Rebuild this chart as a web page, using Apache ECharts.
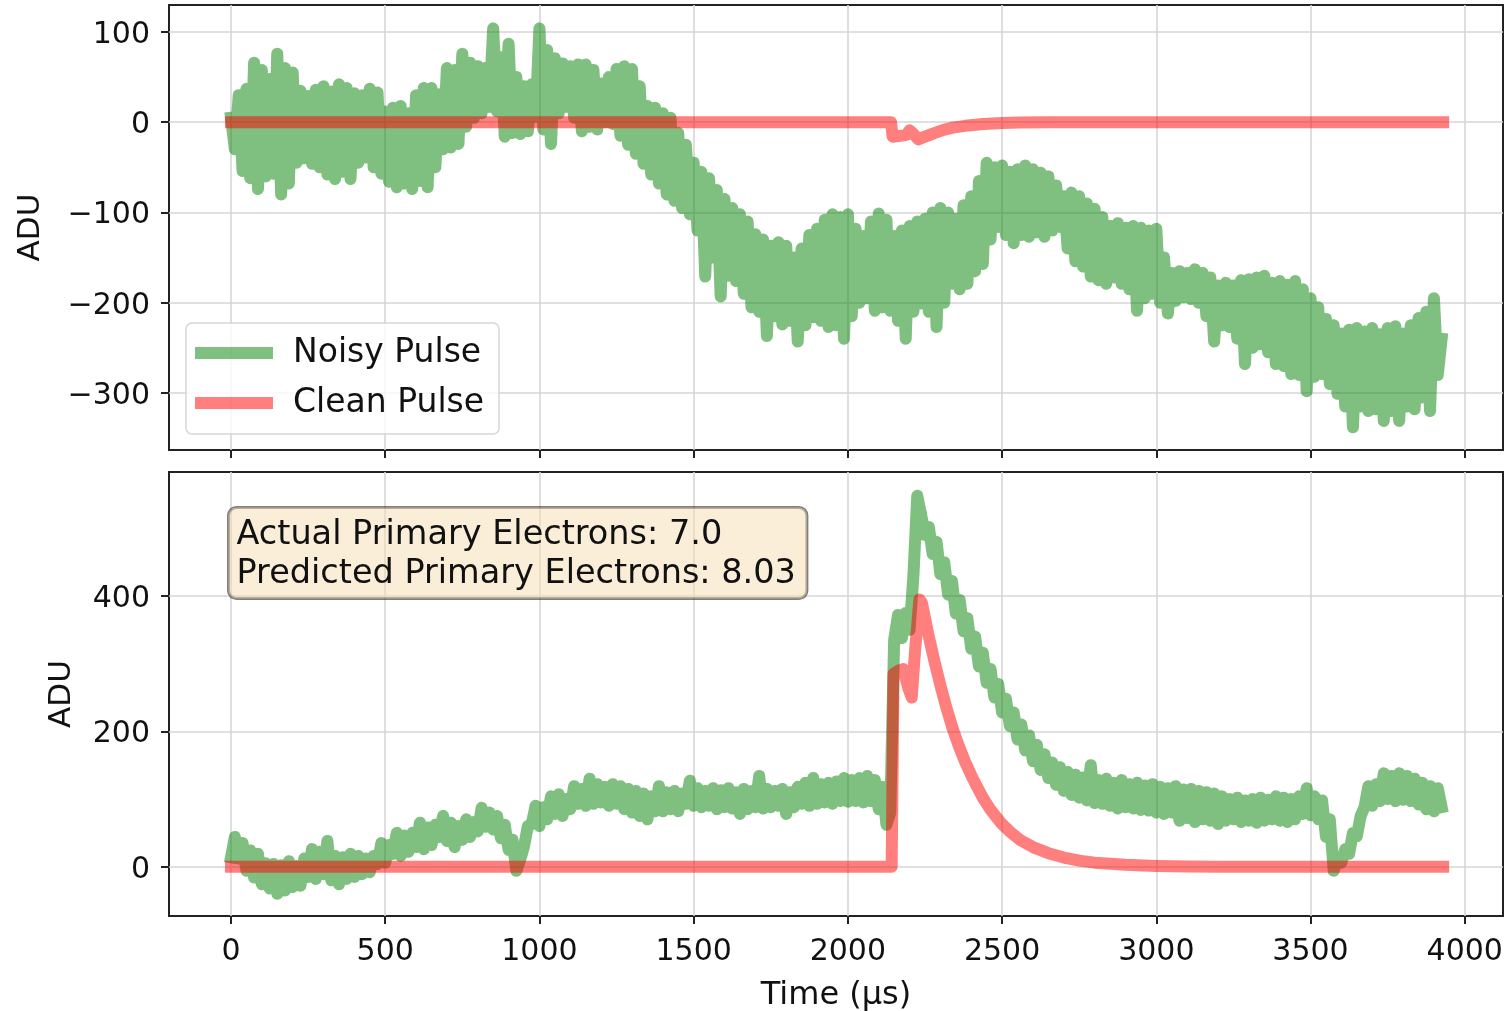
<!DOCTYPE html>
<html>
<head>
<meta charset="utf-8">
<title>Noisy vs clean pulse</title>
<script src="https://cdn.jsdelivr.net/npm/echarts@6/dist/echarts.min.js"></script>
<style>
  html, body { margin: 0; padding: 0; background: #ffffff; }
  #chart { width: 1509px; height: 1011px; }
</style>
</head>
<body>
<div id="chart"></div>
<script>
// Noisy waveforms are sampled every 12.5 µs; each list holds one value per sample.
const SAMPLE_STEP_US = 12.5;

// Upper panel: raw noisy waveform (ADU)
const topNoisy = [
  5, -30, 30, -54, 37, -62, 66, -74, 58, -60,
  48, -57, 76, -80, 60, -68, 55, -45, 35, -40,
  29, -46, 36, -50, 40, -58, 34, -63, 42, -55,
  38, -63, 32, -45, 30, -39, 37, -50, 33, -57,
  12, -66, 16, -72, 18, -68, 10, -74, 30, -65,
  38, -72, 38, -50, 31, -30, 60, -28, 58, -24,
  76, -5, 66, 5, 62, 10, 60, 17, 104, 12,
  72, -16, 87, -12, 50, -13, 40, -10, 42, 6,
  104, -8, 80, -24, 71, 10, 65, 17, 62, 5,
  64, -10, 64, -5, 58, -8, 43, 0, 50, -2,
  59, -15, 62, -25, 59, -35, 40, -46, 18, -58,
  16, -68, 10, -80, 5, -87, -12, -95, -25, -102,
  -45, -120, -55, -171, -62, -150, -75, -193, -85, -170,
  -95, -176, -102, -190, -110, -205, -124, -210, -130, -237,
  -137, -215, -133, -224, -137, -220, -150, -243, -140, -225,
  -125, -216, -118, -220, -108, -227, -102, -225, -105, -240,
  -102, -215, -118, -200, -126, -195, -110, -209, -101, -205,
  -108, -209, -126, -220, -120, -240, -115, -210, -110, -201,
  -107, -210, -100, -227, -95, -200, -100, -179, -107, -185,
  -92, -179, -82, -165, -65, -157, -45, -130, -50, -116,
  -48, -125, -55, -134, -52, -125, -48, -127, -52, -122,
  -56, -127, -60, -120, -70, -116, -82, -140, -78, -154,
  -82, -160, -90, -171, -96, -175, -105, -179, -115, -172,
  -112, -179, -117, -185, -115, -209, -117, -195, -120, -190,
  -118, -200, -150, -212, -167, -198, -165, -194, -167, -196,
  -163, -200, -167, -215, -172, -243, -181, -225, -178, -227,
  -181, -240, -175, -268, -174, -250, -172, -246, -170, -255,
  -178, -268, -176, -270, -180, -279, -176, -280, -185, -298,
  -195, -282, -205, -279, -218, -290, -225, -301, -234, -315,
  -230, -338, -228, -315, -232, -320, -228, -318, -235, -331,
  -228, -320, -226, -331, -234, -315, -225, -318, -217, -305,
  -210, -320, -195, -280, -240
];

// Upper panel: clean pulse as [time µs, ADU]
const topClean = [
  [0, 0], [2140, 0], [2145, -16], [2170, -15], [2190, -14], [2200, -9],
  [2210, -12], [2228, -19], [2250, -16], [2280, -12], [2310, -8.5],
  [2340, -6], [2380, -4], [2440, -2], [2500, -0.8], [2560, -0.3],
  [2650, 0], [3930, 0]
];

// Lower panel: noisy waveform (ADU)
const bottomNoisy = [
  14, 44, 12, 35, -6, 24, -16, 19, -26, 5,
  -32, 4, -40, 2, -35, 8, -30, 1, -28, 12,
  -15, 26, -18, 22, -11, 38, -20, 16, -26, 14,
  -18, 19, -15, 16, -11, 12, -8, 16, 4, 35,
  6, 32, 19, 50, 16, 46, 22, 50, 29, 65,
  26, 58, 32, 62, 44, 75, 38, 65, 29, 60,
  40, 70, 44, 66, 52, 87, 59, 80, 55, 75,
  42, 62, 25, 40, -6, 10, 30, 60, 63, 90,
  60, 88, 70, 104, 78, 107, 75, 100, 85, 119,
  93, 115, 90, 130, 93, 122, 95, 118, 90, 122,
  93, 119, 85, 115, 80, 112, 75, 108, 70, 104,
  82, 119, 82, 110, 85, 112, 82, 108, 93, 127,
  90, 116, 88, 112, 90, 116, 85, 113, 88, 116,
  86, 110, 78, 115, 85, 112, 88, 134, 86, 115,
  88, 112, 90, 115, 78, 110, 88, 118, 93, 124,
  90, 131, 93, 122, 95, 124, 93, 126, 97, 131,
  96, 128, 97, 131, 95, 134, 97, 128, 85, 118,
  62, 80, 335, 372, 338, 375, 350, 430, 548, 520,
  490, 502, 462, 480, 432, 450, 402, 422, 374, 394,
  348, 367, 322, 340, 296, 316, 272, 292, 250, 270,
  228, 248, 208, 228, 188, 210, 172, 194, 156, 180,
  143, 166, 131, 154, 121, 147, 112, 140, 106, 136,
  102, 132, 98, 150, 94, 128, 93, 130, 90, 124,
  86, 128, 88, 122, 86, 124, 84, 120, 83, 122,
  80, 118, 78, 116, 80, 119, 68, 114, 72, 115,
  66, 112, 70, 110, 68, 108, 63, 104, 68, 100,
  70, 102, 66, 98, 68, 100, 65, 102, 68, 99,
  70, 104, 68, 102, 66, 100, 70, 104, 78, 116,
  76, 104, 70, 98, 44, 70, -6, 12, 6, 26,
  19, 50, 45, 75, 88, 119, 90, 122, 97, 138,
  100, 134, 97, 138, 99, 134, 97, 130, 92, 124,
  85, 119, 82, 116, 88
];

// Lower panel: clean pulse as [time µs, ADU]
const bottomClean = [
  [0, 0], [2142, 0], [2148, 285], [2165, 290], [2180, 292], [2195, 265],
  [2207, 250], [2218, 320], [2232, 395], [2240, 390], [2260, 345],
  [2280, 305], [2300, 268], [2320, 234], [2340, 204], [2360, 178],
  [2380, 155], [2400, 135], [2420, 117], [2440, 100], [2460, 86],
  [2480, 74], [2500, 63], [2530, 50], [2560, 39], [2600, 29],
  [2650, 20], [2700, 13.5], [2750, 9], [2800, 6], [2900, 3],
  [3000, 1.2], [3100, 0.4], [3200, 0], [3930, 0]
];

// Tick positions
const timeTicks = [0, 500, 1000, 1500, 2000, 2500, 3000, 3500, 4000];
const topAduTicks = [-300, -200, -100, 0, 100];
const bottomAduTicks = [0, 200, 400];

// Electron counts shown in the lower panel
const actualElectrons = 7.0;
const predictedElectrons = 8.03;

const NOISY_COLOR = 'rgba(0, 128, 0, 0.5)';
const CLEAN_COLOR = 'rgba(255, 0, 0, 0.5)';
const FONT = 'DejaVu Sans';
const TEXT_COLOR = '#111111';
const FRAME_COLOR = '#222222';
const GRID_COLOR = '#d6d6d6';

const withTimes = values => values.map((v, i) => [i * SAMPLE_STEP_US, v]);
const minusFmt = v => (v < 0 ? '\u2212' + Math.abs(v) : String(v));

function timeAxis(gridIndex, showLabels) {
  return {
    type: 'value',
    gridIndex: gridIndex,
    min: -201,
    max: 4124,
    axisLine: { show: false, onZero: false },
    axisTick: {
      show: true, customValues: timeTicks, length: 8, inside: false,
      lineStyle: { color: FRAME_COLOR, width: 2 }
    },
    axisLabel: {
      show: showLabels, customValues: timeTicks, formatter: minusFmt,
      fontSize: 30, fontFamily: FONT, color: TEXT_COLOR, margin: 21
    },
    splitLine: { show: true, lineStyle: { color: GRID_COLOR, width: 1.6 } },
    name: showLabels ? 'Time (µs)' : '',
    nameLocation: 'middle',
    nameGap: 64,
    nameTextStyle: { fontSize: 32, fontFamily: FONT, color: TEXT_COLOR }
  };
}

function aduAxis(gridIndex, min, max, ticks, nameGap) {
  return {
    type: 'value',
    gridIndex: gridIndex,
    min: min,
    max: max,
    axisLine: { show: false, onZero: false },
    axisTick: {
      show: true, customValues: ticks, length: 8, inside: false,
      lineStyle: { color: FRAME_COLOR, width: 2 }
    },
    axisLabel: {
      show: true, customValues: ticks,
      formatter: v => '{v|' + minusFmt(v) + '}',
      rich: {
        v: { fontSize: 30, fontFamily: FONT, color: TEXT_COLOR, padding: [6, 0, 0, 0] }
      },
      fontSize: 30, fontFamily: FONT, color: TEXT_COLOR, margin: 19
    },
    splitLine: { show: true, lineStyle: { color: GRID_COLOR, width: 1.6 } },
    name: 'ADU',
    nameLocation: 'middle',
    nameRotate: 90,
    nameGap: nameGap,
    nameTextStyle: { fontSize: 31, fontFamily: FONT, color: TEXT_COLOR }
  };
}

function lineSeries(name, data, color, xi, yi, z) {
  return {
    name: name,
    type: 'line',
    xAxisIndex: xi,
    yAxisIndex: yi,
    data: data,
    showSymbol: false,
    symbol: 'none',
    z: z,
    itemStyle: { color: color },
    lineStyle: { color: color, width: 12, cap: 'square', join: 'round' },
    emphasis: { disabled: true },
    animation: false
  };
}

const chart = echarts.init(document.getElementById('chart'), null, { renderer: 'canvas' });

chart.setOption({
  animation: false,
  backgroundColor: '#ffffff',
  textStyle: { fontFamily: FONT },
  grid: [
    { left: 169, top: 5, width: 1334, height: 445, show: true,
      borderColor: FRAME_COLOR, borderWidth: 2, containLabel: false, outerBoundsMode: 'none' },
    { left: 169, top: 472, width: 1334, height: 444, show: true,
      borderColor: FRAME_COLOR, borderWidth: 2, containLabel: false, outerBoundsMode: 'none' }
  ],
  xAxis: [timeAxis(0, false), timeAxis(1, true)],
  yAxis: [
    aduAxis(0, -363.2, 129.9, topAduTicks, 123),
    aduAxis(1, -72.8, 583.2, bottomAduTicks, 92)
  ],
  legend: {
    show: true,
    orient: 'vertical',
    left: 186,
    top: 323,
    icon: 'rect',
    itemWidth: 78,
    itemHeight: 12,
    itemGap: 14,
    padding: [12, 15, 13, 9],
    backgroundColor: 'rgba(255,255,255,0.8)',
    borderColor: 'rgba(204,204,204,0.8)',
    borderWidth: 1.5,
    borderRadius: 6,
    selectedMode: false,
    textStyle: { fontSize: 33, fontFamily: FONT, color: TEXT_COLOR, lineHeight: 36, padding: [0, 0, 0, 15] },
    data: ['Noisy Pulse', 'Clean Pulse']
  },
  graphic: [{
    type: 'text',
    left: 227,
    top: 506,
    z: 100,
    silent: true,
    style: {
      text: 'Actual Primary Electrons: ' + actualElectrons.toFixed(1) +
            '\nPredicted Primary Electrons: ' + predictedElectrons.toFixed(2),
      font: '33.5px "DejaVu Sans"',
      fill: TEXT_COLOR,
      lineHeight: 39,
      backgroundColor: 'rgba(245,222,179,0.5)',
      borderColor: 'rgba(0,0,0,0.5)',
      borderWidth: 1.5,
      borderRadius: 8,
      padding: [8, 11, 5, 8]
    }
  }],
  series: [
    lineSeries('Noisy Pulse', withTimes(topNoisy), NOISY_COLOR, 0, 0, 2),
    lineSeries('Clean Pulse', topClean, CLEAN_COLOR, 0, 0, 3),
    lineSeries('Noisy Pulse', withTimes(bottomNoisy), NOISY_COLOR, 1, 1, 2),
    lineSeries('Clean Pulse', bottomClean, CLEAN_COLOR, 1, 1, 3)
  ]
});
</script>
</body>
</html>
